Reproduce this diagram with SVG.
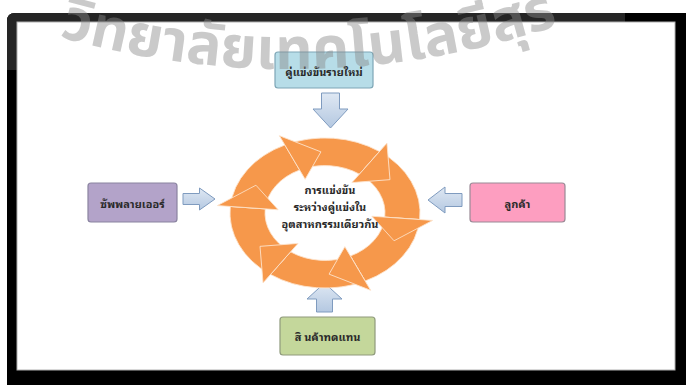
<svg xmlns="http://www.w3.org/2000/svg" width="686" height="385" viewBox="0 0 686 385">
  <style>
    .lbl { font-family: 'Noto Sans Thai Looped', 'Noto Serif Thai', 'Noto Sans Thai', 'Noto Sans', sans-serif; font-size: 11px; font-weight: bold; fill: #2a2a2a; text-anchor: middle; dominant-baseline: central; }
    .box { stroke-width: 1.2; }
    .barrow { fill: url(#blueGrad); stroke: #7f9bbf; stroke-width: 1; }
    .seg { fill: #f6984b; stroke: #fde3cc; stroke-width: 0.9; vector-effect: non-scaling-stroke; stroke-linejoin: round; }
    .wm { font-family: 'Noto Sans Thai', 'Noto Sans', sans-serif; font-size: 58px; font-weight: bold; fill: #8a8a8a; fill-opacity: 0.45; }
  </style>
  <defs>
    <linearGradient id="blueGrad" x1="0" y1="0" x2="0" y2="1">
      <stop offset="0" stop-color="#dfe8f3"/>
      <stop offset="1" stop-color="#b4c8e1"/>
    </linearGradient>
    <path id="body" d="M47.5,-82.27 A95,95 0 0 1 95,0 L60,0 A60,60 0 0 0 30,-51.96 Z"/>
    <path id="head" d="M108,0 L71.86,29.03 L47,0 Z"/>
    <path id="wmPath" d="M40,31 A840,840 0 0 0 620,1.5"/>
  </defs>

  <!-- frame -->
  <rect x="0" y="0" width="686" height="385" fill="#ffffff"/>
  <path d="M7,385 L7,21 Q7,13 15,13 L686,13 L686,385 Z" fill="#000000"/>
  <path d="M7,70 L7,21 Q7,13 15,13 L625,13 L625,22 L17,22 L17,70 Z" fill="#252525"/>
  <rect x="17" y="22" width="658" height="348" fill="#ffffff" stroke="#b0b0b0" stroke-width="1"/>

  <!-- connectors -->
  <g id="connectors">
    <path class="barrow" d="M321.5,93 L339.5,93 L339.5,109 L348,109 L330.5,128 L313,109 L321.5,109 Z"/>
    <path class="barrow" d="M183,193.5 L199.5,193.5 L199.5,188 L215,199 L199.5,210 L199.5,204.5 L183,204.5 Z"/>
    <path class="barrow" d="M462,193.5 L445,193.5 L445,187 L428,200 L445,213 L445,206.5 L462,206.5 Z"/>
    <path class="barrow" d="M316.5,312 L316.5,299 L307,299 L324.5,283 L342,299 L332.5,299 L332.5,312 Z"/>
  </g>

  <!-- center cycle -->
  <g id="cycle">
    <g transform="translate(325,213) scale(1,0.79)">
      <use href="#body" class="seg" transform="rotate(-55)"/>
      <use href="#body" class="seg" transform="rotate(5)"/>
      <use href="#body" class="seg" transform="rotate(65)"/>
      <use href="#body" class="seg" transform="rotate(125)"/>
      <use href="#body" class="seg" transform="rotate(185)"/>
      <use href="#body" class="seg" transform="rotate(245)"/>
      <use href="#head" class="seg" transform="rotate(-55)"/>
      <use href="#head" class="seg" transform="rotate(5)"/>
      <use href="#head" class="seg" transform="rotate(65)"/>
      <use href="#head" class="seg" transform="rotate(125)"/>
      <use href="#head" class="seg" transform="rotate(185)"/>
      <use href="#head" class="seg" transform="rotate(245)"/>
    </g>
    <text class="lbl" x="330" y="189">การแข่งขัน</text>
    <text class="lbl" x="330" y="206">ระหว่างคู่แข่งใน</text>
    <text class="lbl" x="330" y="223">อุตสาหกรรมเดียวกัน</text>
  </g>

  <g id="new-entrants">
    <rect class="box" x="275" y="52" width="98" height="36" rx="3" fill="#b7dde8" stroke="#7ea6b6"/>
    <text class="lbl" x="324" y="71">คู่แข่งขันรายใหม่</text>
  </g>
  <g id="suppliers">
    <rect class="box" x="88" y="183" width="89" height="39" rx="3" fill="#b3a3c9" stroke="#8a84a0"/>
    <text class="lbl" x="132.5" y="202.5">ซัพพลายเออร์</text>
  </g>
  <g id="customers">
    <rect class="box" x="470" y="183" width="95" height="39" rx="3" fill="#fd9ec0" stroke="#9a8a96"/>
    <text class="lbl" x="517.5" y="202.5">ลูกค้า</text>
  </g>
  <g id="substitutes">
    <rect class="box" x="280" y="317" width="95" height="38" rx="3" fill="#c4d79b" stroke="#8f9a7c"/>
    <text class="lbl" x="327.5" y="336">สิ นค้าทดแทน</text>
  </g>

  <!-- watermark -->
  <text class="wm"><textPath href="#wmPath" startOffset="20">วิทยาลัยเทคโนโลยีสุร</textPath></text>
</svg>
